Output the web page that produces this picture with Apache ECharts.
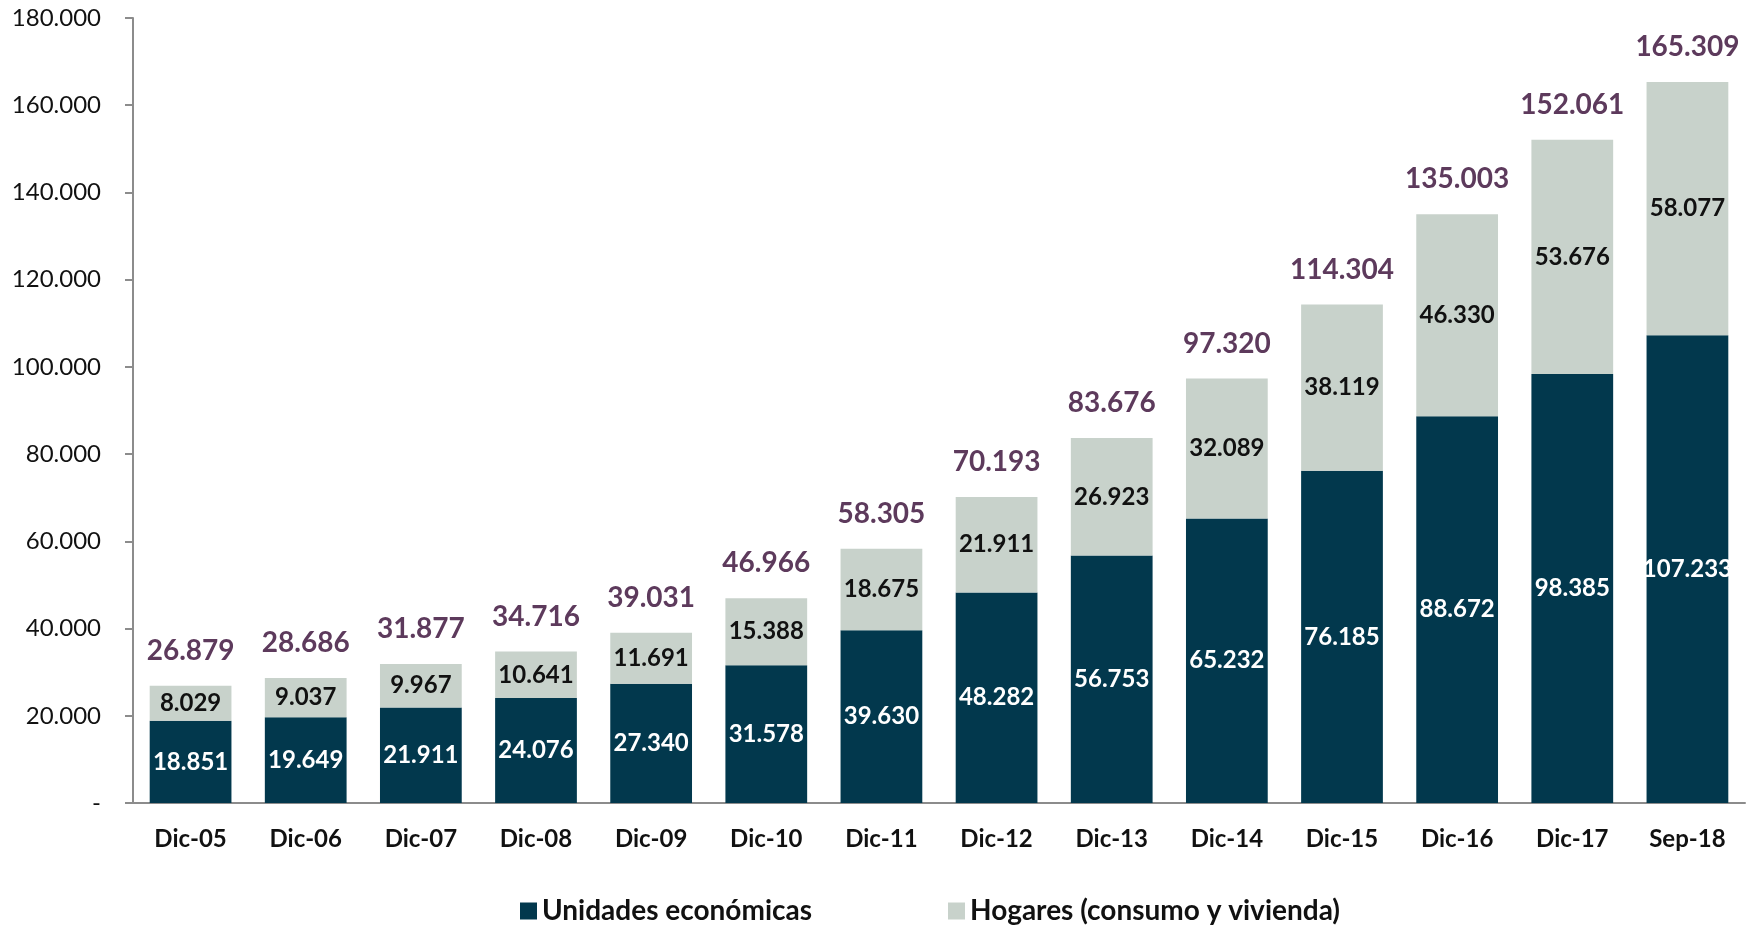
<!DOCTYPE html>
<html>
<head>
<meta charset="utf-8">
<script src="https://cdn.jsdelivr.net/npm/echarts@6/dist/echarts.min.js"></script>
<style>
  html, body { margin: 0; padding: 0; background: #fff; }
  #chart { width: 1755px; height: 926px; }
</style>
</head>
<body>
<div id="chart"></div>
<script>
var categories = ["Dic-05", "Dic-06", "Dic-07", "Dic-08", "Dic-09", "Dic-10", "Dic-11", "Dic-12", "Dic-13", "Dic-14", "Dic-15", "Dic-16", "Dic-17", "Sep-18"];
var unidades = [18851, 19649, 21911, 24076, 27340, 31578, 39630, 48282, 56753, 65232, 76185, 88672, 98385, 107233];
var hogares = [8029, 9037, 9967, 10641, 11691, 15388, 18675, 21911, 26923, 32089, 38119, 46330, 53676, 58077];
var totales = [26879, 28686, 31877, 34716, 39031, 46966, 58305, 70193, 83676, 97320, 114304, 135003, 152061, 165309];

// 1234 -> "1.234", 0 -> "-"
function fmt(v) {
  if (v === 0) return "-";
  return String(v).replace(/\B(?=(\d{3})+(?!\d))/g, ".");
}

var font = "Lato, 'Open Sans', sans-serif";

var option = {
  animation: false,
  textStyle: { fontFamily: font },
  grid: { left: 133, right: 10, top: 18, bottom: 123 },
  legend: {
    top: 897,
    left: 520,
    padding: 0,
    itemWidth: 17,
    itemHeight: 17,
    itemGap: 136,
    icon: "rect",
    textStyle: { fontFamily: font, fontSize: 28, fontWeight: "bold", color: "#111" },
    data: ["Unidades económicas", "Hogares (consumo y vivienda)"]
  },
  xAxis: {
    type: "category",
    data: categories,
    axisLine: { lineStyle: { color: "#8c8c8c", width: 2 } },
    axisTick: { length: 10, lineStyle: { color: "#8c8c8c", width: 2 } },
    axisLabel: { margin: 24, fontSize: 24, fontWeight: "bold", color: "#111", fontFamily: font }
  },
  yAxis: {
    type: "value",
    min: 0,
    max: 180000,
    interval: 20000,
    splitLine: { show: false },
    axisLine: { show: true, lineStyle: { color: "#8c8c8c", width: 2 } },
    axisTick: { show: true, length: 8, lineStyle: { color: "#8c8c8c", width: 2 } },
    axisLabel: {
      margin: 32,
      fontSize: 24,
      color: "#111",
      fontFamily: font,
      formatter: function(v) { return fmt(v); }
    }
  },
  series: [
    {
      name: "Unidades económicas",
      type: "bar",
      stack: "total",
      barCategoryGap: "29%",
      itemStyle: { color: "#02384d" },
      label: {
        show: true,
        position: "inside",
        color: "#fff",
        fontSize: 24,
        fontWeight: "bold",
        fontFamily: font,
        formatter: function(p) { return fmt(p.value); }
      },
      data: unidades
    },
    {
      name: "Hogares (consumo y vivienda)",
      type: "bar",
      stack: "total",
      itemStyle: { color: "#c8d2cb" },
      label: {
        show: true,
        position: "inside",
        color: "#111",
        fontSize: 24,
        fontWeight: "bold",
        fontFamily: font,
        formatter: function(p) { return fmt(p.value); }
      },
      data: hogares
    },
    {
      name: "Total",
      type: "bar",
      barGap: "-100%",
      itemStyle: { color: "transparent" },
      label: {
        show: true,
        position: "top",
        distance: 21,
        color: "#5d3a5c",
        fontSize: 28,
        fontWeight: "bold",
        fontFamily: font,
        formatter: function(p) { return fmt(p.value); }
      },
      z: 1,
      silent: true,
      data: totales
    }
  ]
};

var myChart = echarts.init(document.getElementById("chart"));
myChart.setOption(option);
</script>
</body>
</html>
